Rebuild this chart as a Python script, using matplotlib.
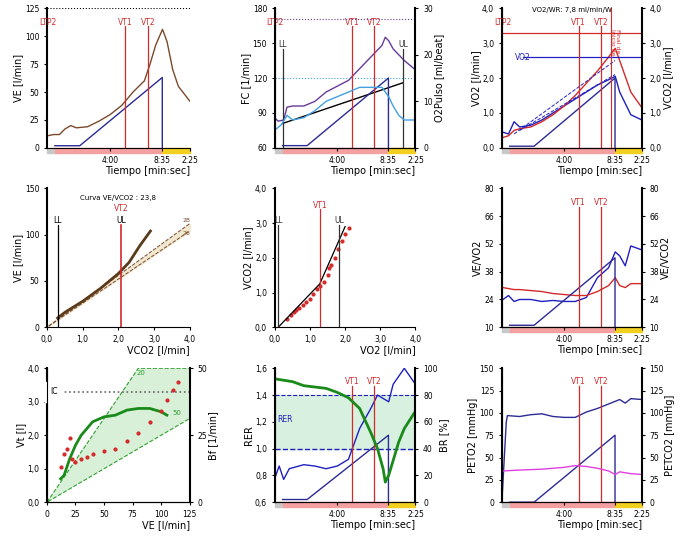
import numpy as np
import matplotlib.pyplot as plt
from matplotlib.patches import Rectangle, Polygon

# Tiempo en minutos (inicio de prueba en -1.6, fin de carga en 8:35, recuperacion 2:25)
t_ve = [-1.5, -1, -0.5, 0, 0.5, 1, 2, 3, 4, 5, 6, 7, 7.5, 8, 8.6, 9, 9.5, 10, 11]
ve = [11, 12, 12, 17, 20, 18, 19, 24, 30, 38, 50, 60, 75, 92, 106, 95, 70, 55, 42]

t_fc = [-1.6, -1.3, -0.8, -0.5, 0, 1, 2, 3, 4, 5, 6, 7, 8, 8.3, 8.6, 9, 10, 11]
fc = [86, 83, 84, 95, 96, 96, 100, 108, 113, 118, 128, 138, 148, 155, 152, 145, 135, 127]
t_o2p = [-1.5, -1, -0.5, 0, 1, 2, 3, 4, 5, 6, 7, 8, 8.6, 9, 9.5, 10, 11]
o2p = [4, 5, 7, 6, 6.5, 8, 10, 11, 12, 13, 13, 13, 11, 9, 7, 6, 6]

t_g = [-1.5, -1, -0.5, 0, 1, 2, 3, 4, 5, 6, 7, 8, 8.6, 9, 10, 11]
vo2 = [0.45, 0.4, 0.75, 0.6, 0.65, 0.8, 1.0, 1.2, 1.4, 1.6, 1.8, 1.95, 2.05, 1.6, 0.95, 0.8]
vco2 = [0.3, 0.35, 0.5, 0.55, 0.6, 0.75, 0.95, 1.2, 1.5, 1.85, 2.2, 2.6, 2.85, 2.5, 1.6, 1.15]

ve_vco2_x = [0.3, 0.5, 1.0, 1.5, 2.0, 2.3, 2.6, 2.9]
ve_vco2_y = [10, 16, 28, 42, 58, 70, 88, 104]

vo2_sc = [0.35, 0.45, 0.55, 0.6, 0.7, 0.8, 0.9, 1.0, 1.1, 1.2, 1.3, 1.4, 1.5, 1.55, 1.6, 1.7, 1.8, 1.9, 2.0, 2.1]
vco2_sc = [0.25, 0.35, 0.45, 0.5, 0.55, 0.65, 0.72, 0.8, 0.95, 1.1, 1.2, 1.3, 1.5, 1.7, 1.8, 2.0, 2.25, 2.5, 2.7, 2.85]

t_eq = [-1.5, -1, -0.5, 0, 1, 2, 3, 4, 5, 6, 7, 8, 8.6, 9, 9.5, 10, 11]
eq_o2 = [24, 26, 23, 24, 24, 23, 23.5, 23, 23, 25, 35, 40, 48, 46, 41, 51, 49]
eq_co2 = [30, 29.5, 29, 29, 28.5, 28, 27, 26.5, 26, 26, 28, 31, 35, 31, 30, 32, 32]

ve_vt = [12, 15, 20, 25, 30, 40, 50, 60, 70, 80, 90, 100, 105]
vt = [0.7, 0.8, 1.3, 1.7, 2.0, 2.4, 2.55, 2.6, 2.75, 2.8, 2.8, 2.7, 2.6]
ve_bf = [12, 15, 18, 20, 22, 25, 30, 35, 40, 50, 60, 70, 80, 90, 100, 105, 110, 115]
bf = [13, 18, 20, 24, 16, 15, 16, 17, 18, 19, 20, 23, 26, 30, 34, 38, 42, 45]

t_rer = [-1.5, -1.2, -0.8, -0.3, 1, 2, 3, 4, 5, 6, 7, 7.6, 8, 8.6, 9, 10, 11]
rer = [0.8, 0.87, 0.77, 0.85, 0.88, 0.87, 0.85, 0.87, 0.92, 1.15, 1.3, 1.4, 1.38, 1.35, 1.48, 1.6, 1.48]
t_br = [-1.5, 0, 1, 2, 3, 4, 5, 6, 7, 7.6, 8.1, 8.3, 8.6, 9.5, 10, 11]
br = [92, 90, 87, 86, 85, 82, 78, 70, 52, 40, 25, 15, 20, 45, 55, 68]

t_pet = [-1.6, -1.2, -1.1, 0, 1, 2, 3, 4, 5, 6, 7, 8, 9, 9.5, 10, 11]
peto2 = [0, 90, 97, 96, 98, 99, 96, 95, 95, 101, 105, 110, 115, 111, 116, 115]
t_pco = [-1.5, 0, 2, 4, 5, 6, 7, 8, 8.6, 9, 10, 11]
petco2 = [35, 36, 37, 39, 41, 40, 38, 35, 31, 34, 32, 31]

RED = '#d42a2a'
NAVY = '#2b2b95'
T0, T1, TEND = -1.6, 8.58, 11.0
VT1, VT2 = 5.3, 7.3
LAB = 7

plt.rcParams['font.size'] = 5.5
plt.rcParams['xtick.major.size'] = 2
plt.rcParams['ytick.major.size'] = 2
fig = plt.figure(figsize=(6.8, 5.4), dpi=100)
lefts = [0.069, 0.404, 0.738]
rows = [(0.726, 0.259), (0.394, 0.257), (0.07, 0.248)]


def make_ax(r, c, w=0.21):
    ax = fig.add_axes([lefts[c], rows[r][0], w, rows[r][1]])
    ax.spines['top'].set_visible(False)
    ax.spines['right'].set_visible(False)
    ax.spines['left'].set_linewidth(1.5)
    return ax


def right_ax(ax, lo, hi, ticks, label, labels=None):
    ax2 = ax.twinx()
    ax2.set_ylim(lo, hi)
    ax2.set_yticks(ticks)
    if labels:
        ax2.set_yticklabels(labels)
    ax2.set_ylabel(label, fontsize=LAB, labelpad=1)
    ax2.spines['right'].set_linewidth(1.5)
    ax2.spines['top'].set_visible(False)
    return ax2


def time_axis(ax, lo, hi):
    ax.set_xlim(T0, TEND)
    ax.set_xticks([4, T1, TEND])
    ax.set_xticklabels(['4:00', '8:35', '2:25'])
    ax.set_xlabel('Tiempo [min:sec]', fontsize=LAB, loc='right', labelpad=1)
    h = 0.035
    for a, b, col in [(T0, -0.9, '#c8c8c8'), (-0.9, T1, '#f4a0a0'), (T1, TEND, '#f2d020')]:
        ax.add_patch(Rectangle((a, -h), b - a, h, transform=ax.get_xaxis_transform(),
                               color=col, clip_on=False))
    # rampa de carga
    ax.plot([-0.9, 1.3, T1, T1], [lo, lo, hi, ax.get_ylim()[0]], color=NAVY, lw=1)


def vlines(ax, xs, labels, color=RED, y=0.88):
    for x, lab in zip(xs, labels):
        ax.axvline(x, color=color, lw=0.9, ymax=y - 0.01)
        ax.text(x, y, lab, color=color, ha='center', fontsize=5.5,
                transform=ax.get_xaxis_transform())


COMMA4 = ['0,0', '1,0', '2,0', '3,0', '4,0']

# 1 VE
ax = make_ax(0, 0)
ax.set_ylim(0, 125)
ax.set_yticks([0, 25, 50, 75, 100, 125])
ax.plot(t_ve, ve, color='#7a4a2a', lw=1)
ax.axhline(125, color='k', ls=':', lw=0.8)
time_axis(ax, 2, 63)
ax.axvline(T0 + 0.05, color=RED, lw=1.2)
vlines(ax, [VT1, VT2], ['VT1', 'VT2'])
ax.text(T0 + 0.05, 0.88, 'LTP2', color=RED, ha='center', fontsize=5.5, transform=ax.get_xaxis_transform())
ax.set_ylabel('VE [l/min]', fontsize=LAB, labelpad=1)

# 2 FC / O2Pulso
ax = make_ax(0, 1, 0.207)
ax.set_ylim(60, 180)
ax.set_yticks([60, 90, 120, 150, 180])
ax.plot(t_fc, fc, color='#6a3a9a', lw=1)
ax.axhline(171, color='#6a3a9a', ls=':', lw=0.8)
ax.axhline(120, color='#40a0e0', ls=':', lw=0.8)
ax.plot([-0.9, 9.9], [81, 116], color='k', lw=1)
time_axis(ax, 62, 120)
ax.axvline(T0 + 0.05, color=RED, lw=1.2)
ax.text(T0 + 0.05, 0.88, 'LTP2', color=RED, ha='center', fontsize=5.5, transform=ax.get_xaxis_transform())
vlines(ax, [VT1, VT2], ['VT1', 'VT2'])
vlines(ax, [-0.9, 9.9], ['LL', 'UL'], color='#333333', y=0.72)
ax.set_ylabel('FC [1/min]', fontsize=LAB, labelpad=1)
ax2 = right_ax(ax, 0, 30, [0, 10, 20, 30], 'O2Pulso [ml/beat]')
ax2.plot(t_o2p, o2p, color='#40a0e0', lw=1)

# 3 VO2 / VCO2
ax = make_ax(0, 2, 0.206)
ax.set_ylim(0, 4)
ax.set_yticks([0, 1, 2, 3, 4])
ax.set_yticklabels(COMMA4)
ax.plot(t_g, vo2, color='#2020c0', lw=1)
ax.plot(t_g, vco2, color=RED, lw=1)
ax.plot([-0.5, T1], [0.4, 2.5], color='#2020c0', ls='--', lw=0.7)
ax.plot([0, T1], [0.5, 2.1], color='#2020c0', ls='--', lw=0.7)
ax.axhline(3.28, color=RED, lw=0.9)
ax.plot([0.3, TEND], [2.6, 2.6], color='#2020c0', lw=0.9)
ax.text(-0.4, 2.6, 'VO2', color='#2020c0', va='center', fontsize=5.5)
ax.text(0.5, 0.97, 'VO2/WR: 7,8 ml/min/W', transform=ax.transAxes, ha='center', fontsize=5)
time_axis(ax, 0.05, 2.0)
ax.axvline(T0 + 0.05, color=RED, lw=1.2)
ax.text(T0 + 0.05, 0.88, 'LTP2', color=RED, ha='center', fontsize=5.5, transform=ax.get_xaxis_transform())
vlines(ax, [VT1, VT2], ['VT1', 'VT2'])
ax.axvline(8.2, color=RED, lw=0.8)
ax.text(8.1, 0.85, 'Final de\nInicio de', color=RED, rotation=-90, fontsize=4.5,
        transform=ax.get_xaxis_transform(), va='top')
ax.set_ylabel('VO2 [l/min]', fontsize=LAB, labelpad=1)
right_ax(ax, 0, 4, [0, 1, 2, 3, 4], 'VCO2 [l/min]', COMMA4)

# 4 VE vs VCO2
ax = make_ax(1, 0)
ax.set_xlim(0, 4)
ax.set_ylim(0, 150)
ax.set_xticks([0, 1, 2, 3, 4])
ax.set_xticklabels(COMMA4)
ax.set_yticks([0, 50, 100, 150])
xs = np.array([0.05, 4.0])
ax.fill_between(xs, 26 * xs, 28 * xs, color='#f0e8d0')
ax.plot(xs, 26 * xs, color='#7a4a2a', ls='--', lw=0.7)
ax.plot(xs, 28 * xs, color='#7a4a2a', ls='--', lw=0.7)
ax.text(3.8, 100, '26', fontsize=4.5, color='#7a4a2a')
ax.text(3.8, 114, '28', fontsize=4.5, color='#7a4a2a')
ax.plot(ve_vco2_x, ve_vco2_y, color='#5a3a1a', lw=2)
ax.plot([0.3, 0.3], [0, 110], color='k', lw=0.9)
ax.text(0.3, 113, 'LL', ha='center', fontsize=5.5)
ax.plot([2.08, 2.08], [0, 110], color=RED, lw=1.2)
ax.text(2.08, 113, 'UL', ha='center', fontsize=5.5)
ax.text(2.08, 126, 'VT2', ha='center', color=RED, fontsize=5.5)
ax.text(0.5, 0.92, 'Curva VE/VCO2 : 23,8', transform=ax.transAxes, ha='center', fontsize=5)
ax.set_xlabel('VCO2 [l/min]', fontsize=LAB, loc='right', labelpad=1)
ax.set_ylabel('VE [l/min]', fontsize=LAB, labelpad=1)

# 5 VCO2 vs VO2
ax = make_ax(1, 1, 0.207)
ax.set_xlim(0, 4)
ax.set_ylim(0, 4)
ax.set_xticks([0, 1, 2, 3, 4])
ax.set_yticks([0, 1, 2, 3, 4])
ax.set_xticklabels(COMMA4)
ax.set_yticklabels(COMMA4)
ax.scatter(vo2_sc, vco2_sc, s=4, color=RED)
ax.plot([0.1, 1.28, 2.0], [0, 1.25, 2.9], color='k', lw=0.9)
for x, lab, col in [(0.1, 'LL', '#333333'), (1.28, 'VT1', RED), (1.82, 'UL', '#333333')]:
    top = 3.4 if lab == 'VT1' else 2.95
    ax.plot([x, x], [0, top], color=col, lw=0.9)
    ax.text(x, top + 0.05, lab, color=col, ha='center', fontsize=5.5)
ax.set_xlabel('VO2 [l/min]', fontsize=LAB, loc='right', labelpad=1)
ax.set_ylabel('VCO2 [l/min]', fontsize=LAB, labelpad=1)

# 6 Equivalentes
ax = make_ax(1, 2, 0.206)
ax.set_ylim(10, 80)
ax.set_yticks([10, 24, 38, 52, 66, 80])
ax.plot(t_eq, eq_o2, color='#2020c0', lw=1)
ax.plot(t_eq, eq_co2, color=RED, lw=1)
time_axis(ax, 11, 45)
vlines(ax, [VT1, VT2], ['VT1', 'VT2'])
ax.set_ylabel('VE/VO2', fontsize=LAB, labelpad=1)
right_ax(ax, 10, 80, [10, 24, 38, 52, 66, 80], 'VE/VCO2')

# 7 Vt vs VE
ax = make_ax(2, 0)
ax.set_xlim(0, 125)
ax.set_ylim(0, 4)
ax.set_xticks([0, 25, 50, 75, 100, 125])
ax.set_yticks([0, 1, 2, 3, 4])
ax.set_yticklabels(COMMA4)
ax.add_patch(Polygon([(0, 0), (80, 4), (125, 4), (125, 2.5)], closed=True,
                     facecolor='#d8f0d8', edgecolor='#30a030', ls='--', lw=0.8))
ax.axhline(3.3, color='#666666', ls=':', lw=1.2)
ax.text(3, 3.3, 'IC', va='center', fontsize=5.5, backgroundcolor='white')
ax.text(78, 3.8, '20', color='#30a030', fontsize=5)
ax.text(110, 2.6, '50', color='#30a030', fontsize=5)
ax.plot(ve_vt, vt, color='#1a8a1a', lw=2)
ax.set_xlabel('VE [l/min]', fontsize=LAB, loc='right', labelpad=1)
ax.set_ylabel('Vt [l]', fontsize=LAB, labelpad=1)
ax2 = right_ax(ax, 0, 50, [0, 25, 50], 'Bf [1/min]')
ax2.scatter(ve_bf, bf, s=4, color=RED)

# 8 RER / BR
ax = make_ax(2, 1, 0.207)
ax.set_ylim(0.6, 1.6)
ax.set_yticks([0.6, 0.8, 1.0, 1.2, 1.4, 1.6])
ax.set_yticklabels(['0,6', '0,8', '1,0', '1,2', '1,4', '1,6'])
ax.axhspan(1.0, 1.4, color='#d8f0e0')
ax.axhline(1.0, color='#2020c0', ls='--', lw=1)
ax.axhline(1.4, color='#2020c0', ls='--', lw=0.8)
ax.text(-1.4, 1.2, 'RER', color='#2020c0', fontsize=5.5)
ax.plot(t_rer, rer, color='#2020c0', lw=1)
time_axis(ax, 0.62, 1.1)
vlines(ax, [VT1, VT2], ['VT1', 'VT2'])
ax.set_ylabel('RER', fontsize=LAB, labelpad=1)
ax2 = right_ax(ax, 0, 100, [0, 20, 40, 60, 80, 100], 'BR [%]')
ax2.plot(t_br, br, color='#1a8a1a', lw=2)

# 9 PETO2 / PETCO2
ax = make_ax(2, 2, 0.206)
ax.set_ylim(0, 150)
ax.set_yticks([0, 25, 50, 75, 100, 125, 150])
ax.plot(t_pet, peto2, color='#2b2b95', lw=1)
time_axis(ax, 0, 75)
vlines(ax, [VT1, VT2], ['VT1', 'VT2'])
ax.set_ylabel('PETO2 [mmHg]', fontsize=LAB, labelpad=1)
ax2 = right_ax(ax, 0, 150, [0, 25, 50, 75, 100, 125, 150], 'PETCO2 [mmHg]')
ax2.plot(t_pco, petco2, color='#e040e0', lw=1)

fig.savefig('out.png', dpi=100)
